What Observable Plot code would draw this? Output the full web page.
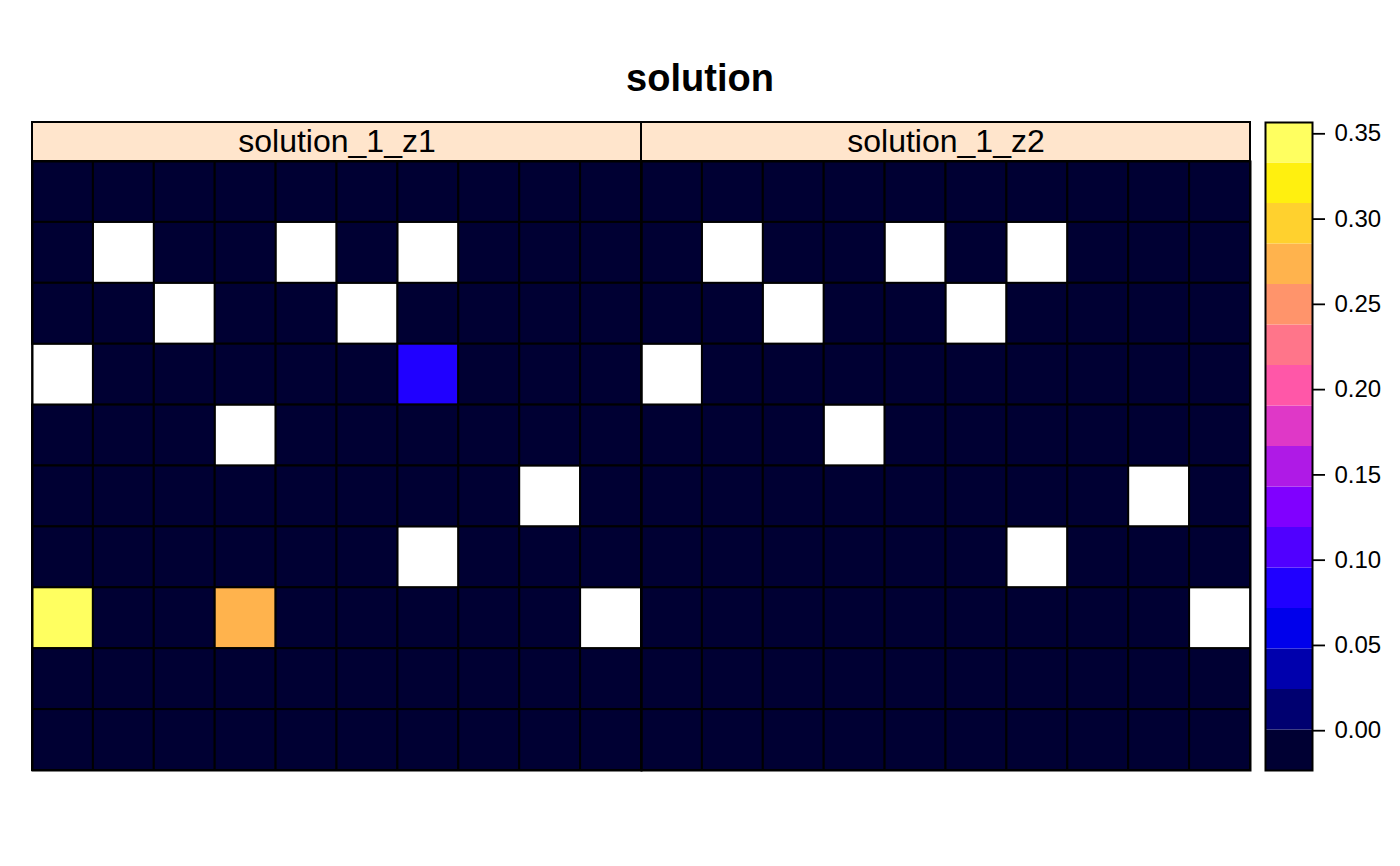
<!DOCTYPE html>
<html>
<head>
<meta charset="utf-8">
<script src="https://cdn.jsdelivr.net/npm/d3@7"></script>
<script src="https://cdn.jsdelivr.net/npm/@observablehq/plot@0.6"></script>
<style>
  html, body { margin: 0; padding: 0; background: #ffffff; }
  #wrap { position: relative; width: 1400px; height: 866px; font-family: "Liberation Sans", Arial, Helvetica, sans-serif; }
  #wrap > .layer { position: absolute; }
  #title { position: absolute; left: 0; top: 59px; width: 1400px; text-align: center; font-size: 38px; line-height: 38px; font-weight: bold; color: #000; }
</style>
</head>
<body>
<div id="wrap">
  <div id="title">solution</div>
</div>
<script>
// ---- data ----
const chartTitle = "solution";
const panels = ["solution_1_z1", "solution_1_z2"];
const N = null; // NA cell
const z1 = [
  [0, 0, 0, 0, 0, 0, 0, 0, 0, 0],
  [0, N, 0, 0, N, 0, N, 0, 0, 0],
  [0, 0, N, 0, 0, N, 0, 0, 0, 0],
  [N, 0, 0, 0, 0, 0, 0.083, 0, 0, 0],
  [0, 0, 0, N, 0, 0, 0, 0, 0, 0],
  [0, 0, 0, 0, 0, 0, 0, 0, N, 0],
  [0, 0, 0, 0, 0, 0, N, 0, 0, 0],
  [0.3333, 0, 0, 0.27, 0, 0, 0, 0, 0, N],
  [0, 0, 0, 0, 0, 0, 0, 0, 0, 0],
  [0, 0, 0, 0, 0, 0, 0, 0, 0, 0]
];
const z2 = [
  [0, 0, 0, 0, 0, 0, 0, 0, 0, 0],
  [0, N, 0, 0, N, 0, N, 0, 0, 0],
  [0, 0, N, 0, 0, N, 0, 0, 0, 0],
  [N, 0, 0, 0, 0, 0, 0, 0, 0, 0],
  [0, 0, 0, N, 0, 0, 0, 0, 0, 0],
  [0, 0, 0, 0, 0, 0, 0, 0, N, 0],
  [0, 0, 0, 0, 0, 0, N, 0, 0, 0],
  [0, 0, 0, 0, 0, 0, 0, 0, 0, N],
  [0, 0, 0, 0, 0, 0, 0, 0, 0, 0],
  [0, 0, 0, 0, 0, 0, 0, 0, 0, 0]
];
const keyTicks = [0.00, 0.05, 0.10, 0.15, 0.20, 0.25, 0.30, 0.35];
// bpy-style palette (16 levels)
const palette = ["#000033", "#000070", "#0000AD", "#0000EB", "#2000FF", "#5000FF", "#8000FF", "#AF1AE6",
                 "#DF38C7", "#FF57A8", "#FF758A", "#FF946B", "#FFB34D", "#FFD12E", "#FFF00F", "#FFFF60"];

// ---- build table ----
const grids = [z1, z2];
const cells = [];
grids.forEach((g, p) => g.forEach((row, r) => row.forEach((v, c) => {
  cells.push({panel: panels[p], row: r, col: c, value: v});
})));
const valid = cells.filter(d => d.value != null);
const naCells = cells.filter(d => d.value == null);

// breaks: data range extended by 7% on each side, 16 intervals
const [vmin, vmax] = d3.extent(valid, d => d.value);
const ext = (vmax - vmin) * 0.07;
const lo = vmin - ext, hi = vmax + ext;
const breaks = d3.range(palette.length + 1).map(i => lo + i * (hi - lo) / palette.length);
const bands = palette.map((c, i) => ({y1: breaks[i], y2: breaks[i + 1], color: c}));

const font = "'Liberation Sans', Arial, Helvetica, sans-serif";
const W = 1400, H = 866;
const mL = 32, mR = 150, mT = 161, mB = 96;
const idx = d3.range(10);

// ---- main panels ----
const main = Plot.plot({
  width: W, height: H,
  marginLeft: mL, marginRight: mR, marginTop: mT, marginBottom: mB,
  style: {fontFamily: font, background: "transparent"},
  fx: {domain: panels, padding: 0, round: false, axis: null},
  x: {type: "band", domain: idx, padding: 0, round: false, axis: null},
  y: {type: "band", domain: idx, padding: 0, round: false, axis: null},
  color: {type: "threshold", domain: breaks.slice(1, palette.length), range: palette},
  marks: [
    Plot.cell(naCells, {fx: "panel", x: "col", y: "row", fill: "white", stroke: "black", strokeWidth: 1.6}),
    Plot.cell(valid, {fx: "panel", x: "col", y: "row", fill: "value", stroke: "black", strokeWidth: 2}),
    Plot.frame({stroke: "black", strokeWidth: 2})
  ]
});
main.classList.add("layer");
main.style.left = "0px"; main.style.top = "0px";

// ---- strips ----
const strip = Plot.plot({
  width: W, height: 42,
  marginLeft: mL, marginRight: mR, marginTop: 1, marginBottom: 2,
  style: {fontFamily: font, background: "transparent"},
  x: {type: "band", domain: panels, padding: 0, round: false, axis: null},
  marks: [
    Plot.cell(panels, {x: d => d, fill: "#ffe5cc", stroke: "black", strokeWidth: 2}),
    Plot.text(panels, {x: d => d, text: d => d, fontSize: 32, fill: "black"})
  ]
});
strip.classList.add("layer");
strip.style.left = "0px"; strip.style.top = "121px";

// ---- color key ----
const key = Plot.plot({
  width: 150, height: H,
  marginLeft: 15, marginRight: 88, marginTop: 122, marginBottom: mB,
  style: {fontFamily: font, background: "transparent", color: "black"},
  x: {domain: [0, 1], axis: null},
  y: {domain: [lo, hi]},
  marks: [
    Plot.rect(bands, {x1: 0, x2: 1, y1: "y1", y2: "y2", fill: "color"}),
    Plot.frame({stroke: "black", strokeWidth: 2}),
    Plot.axisY({anchor: "right", ticks: keyTicks, tickFormat: d3.format(".2f"), tickSize: 12, tickPadding: 10,
                fontSize: 24, strokeWidth: 1.8, label: null})
  ]
});
key.classList.add("layer");
key.style.left = "1250px"; key.style.top = "0px";

const wrap = document.getElementById("wrap");
wrap.appendChild(main);
wrap.appendChild(strip);
wrap.appendChild(key);
document.getElementById("title").textContent = chartTitle;
</script>
</body>
</html>
